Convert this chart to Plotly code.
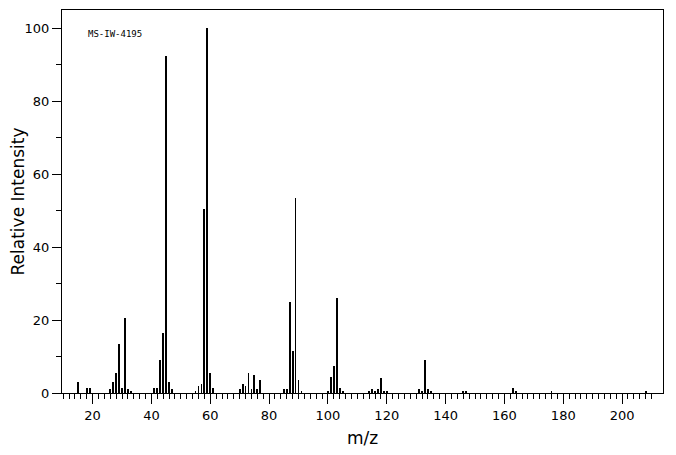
import plotly.graph_objects as go

mz = [15,18,19,26,27,28,29,30,31,32,33,41,42,43,44,45,46,47,55,56,57,58,59,60,61,
      70,71,72,73,74,75,76,77,85,86,87,88,89,90,91,100,101,102,103,104,105,
      114,115,116,117,118,119,120,131,132,133,134,135,146,147,163,164,176,208]
intensity = [3,1.5,1.5,1,3,5.5,13.5,1.5,20.5,1,0.5,1.5,1.5,9,16.5,92.5,3,1,0.5,2,2.5,50.5,100,5.5,1.5,
             1,2.5,2,5.5,1,5,1,3.5,1,1,25,11.5,53.5,3.5,0.5,0.5,4.5,7.5,26,1.5,0.5,
             0.5,1,0.5,1,4,0.5,0.5,1,0.5,9,1,0.5,0.5,0.5,1.5,0.5,0.3,0.5]
x_major = [20, 40, 60, 80, 100, 120, 140, 160, 180, 200]
x_minor = list(range(10, 211, 2))

fig = go.Figure(go.Bar(x=mz, y=intensity, width=0.28, marker=dict(color="black", line=dict(width=0))))
fig.update_layout(
    width=668, height=447, margin=dict(l=54, r=13, t=2, b=62, autoexpand=False),
    plot_bgcolor="white", paper_bgcolor="white", showlegend=False, bargap=0,
    font=dict(family="DejaVu Sans", color="black", size=13),
)
fig.update_xaxes(range=[9.6, 213.9], tickvals=x_major, ticks="outside", ticklen=10,
                 tickcolor="black", showline=True, linecolor="black", mirror=True, showgrid=False,
                 zeroline=False, automargin=False,
                 minor=dict(tickvals=x_minor, ticks="outside", ticklen=5, tickcolor="black"),
                 title=dict(text="m/z", font=dict(size=17), standoff=10))
fig.update_yaxes(range=[0, 105], tickmode="linear", tick0=0, dtick=20, ticks="outside", ticklen=9,
                 tickcolor="black", showline=True, linecolor="black", mirror=True, showgrid=False,
                 zeroline=False, automargin=False,
                 minor=dict(dtick=10, ticks="outside", ticklen=5, tickcolor="black"),
                 title=dict(text="Relative Intensity", font=dict(size=17), standoff=6))
fig.add_annotation(x=0.04, y=0.955, xref="paper", yref="paper", text="MS-IW-4195", showarrow=False,
                   xanchor="left", font=dict(size=9, family="DejaVu Sans Mono"))
fig.write_html("out.html")
